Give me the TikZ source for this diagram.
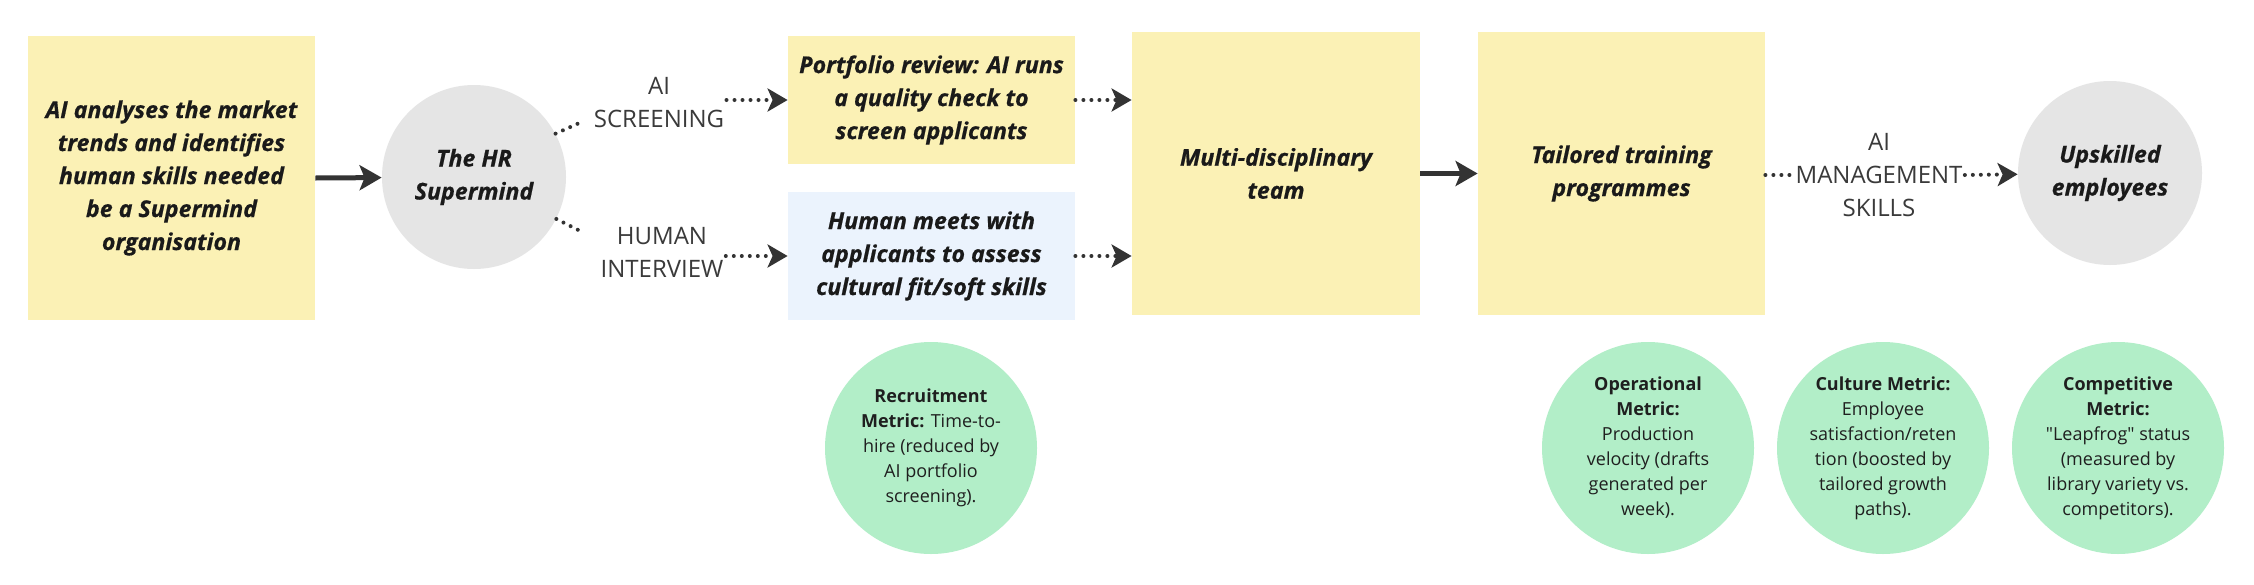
\documentclass[tikz,border=0pt]{standalone}
\usepackage{fontspec}
\setmainfont{Open Sans}[Ligatures=TeXOff]
\newfontfamily\titlefont{Open Sans}[FakeBold=0.6]
\usetikzlibrary{arrows.meta,calc}
\definecolor{boxyellow}{HTML}{FBF1B5}
\definecolor{boxblue}{HTML}{EBF3FD}
\definecolor{circgray}{HTML}{E5E5E5}
\definecolor{mint}{HTML}{B2EEC8}
\definecolor{arrowcol}{HTML}{333333}
\definecolor{titlecol}{HTML}{1A1A1A}
\definecolor{lblcol}{HTML}{3A3A3A}
\definecolor{metcol}{HTML}{1F1F1F}
\begin{document}
\begin{tikzpicture}[x=0.5pt,y=-0.5pt,
  title/.style={font=\titlefont\bfseries\itshape\fontsize{11.6}{16.5}\selectfont, text=titlecol, align=center},
  ybox/.style={title, rectangle, fill=boxyellow, inner sep=0pt},
  gcirc/.style={title, circle, fill=circgray, minimum size=92pt, inner sep=0pt},
  lbl/.style={font=\fontsize{12}{16.5}\selectfont, text=lblcol, align=center, inner sep=1pt},
  metric/.style={circle, fill=mint, minimum size=106pt, inner sep=0pt, align=center, font=\fontsize{9}{12.5}\selectfont, text=metcol},
  solidarrow/.style={draw=arrowcol, line width=2.5pt, -{Stealth[length=11pt,width=12.5pt,inset=2.5pt]}},
  dotline/.style={draw=arrowcol, line width=2pt, line cap=round, dash pattern=on 0pt off 4pt},
  dotarrow/.style={dotline, -{Stealth[length=10pt,width=11.5pt,inset=2.5pt]}}
]
\useasboundingbox[fill=white] (0,0) rectangle (2254,584);

% main flow
\node[ybox, minimum width=143.5pt, minimum height=142pt] (A) at (171.5,178)
  {AI analyses the market\\trends and identifies\\human skills needed\\be a Supermind\\organisation};
\node[gcirc] (hr) at (474,177) {The HR\\Supermind};
\node[lbl] (lblAI) at (659,103) {AI\\SCREENING};
\node[lbl] (lblHu) at (662,252) {HUMAN\\INTERVIEW};
\node[ybox, minimum width=143.5pt, minimum height=64pt] (port) at (931.5,100)
  {Portfolio review: AI runs\\a quality check to\\screen applicants};
\node[ybox, fill=boxblue, minimum width=143.5pt, minimum height=64pt] (hum) at (931.5,256)
  {Human meets with\\applicants to assess\\cultural fit/soft skills};
\node[ybox, minimum width=144pt, minimum height=141.5pt] (multi) at (1276,173.5)
  {Multi-disciplinary\\team};
\node[ybox, minimum width=143.5pt, minimum height=141.5pt] (tail) at (1621.5,173.5)
  {Tailored training\\programmes};
\node[lbl] (lblM) at (1879,175) {AI\\MANAGEMENT\\SKILLS};
\node[gcirc] (up) at (2110,173) {Upskilled\\employees};

% metrics
\node[metric] (rec) at (931,448)
  {\textbf{Recruitment}\\\textbf{Metric:} Time-to-\\hire (reduced by\\AI portfolio\\screening).};
\node[metric] (op) at (1648,448)
  {\textbf{Operational}\\\textbf{Metric:}\\Production\\velocity (drafts\\generated per\\week).};
\node[metric] (cul) at (1883,448)
  {\textbf{Culture Metric:}\\Employee\\satisfaction/reten\\tion (boosted by\\tailored growth\\paths).};
\node[metric] (comp) at (2118,448)
  {\textbf{Competitive}\\\textbf{Metric:}\\"Leapfrog" status\\(measured by\\library variety vs.\\competitors).};

% connectors
\draw[solidarrow] (A.east) -- (hr);
\draw[dotline] (hr.28) -- ($(lblAI.west)+(-10,19)$);
\draw[dotline] (hr.-27) -- ($(lblHu.west)+(-14,-19)$);
\draw[dotarrow] (lblAI.east |- port.west) -- (port.west);
\draw[dotarrow] (lblHu.east |- hum.west) -- (hum.west);
\draw[dotarrow] (port.east) -- (port.east -| multi.west);
\draw[dotarrow] (hum.east) -- (hum.east -| multi.west);
\draw[solidarrow] (multi.east) -- (tail.west);
\draw[dotline] (tail.east |- lblM.west) -- (lblM.west);
\draw[dotarrow] (lblM.east) -- (up);
\end{tikzpicture}
\end{document}
